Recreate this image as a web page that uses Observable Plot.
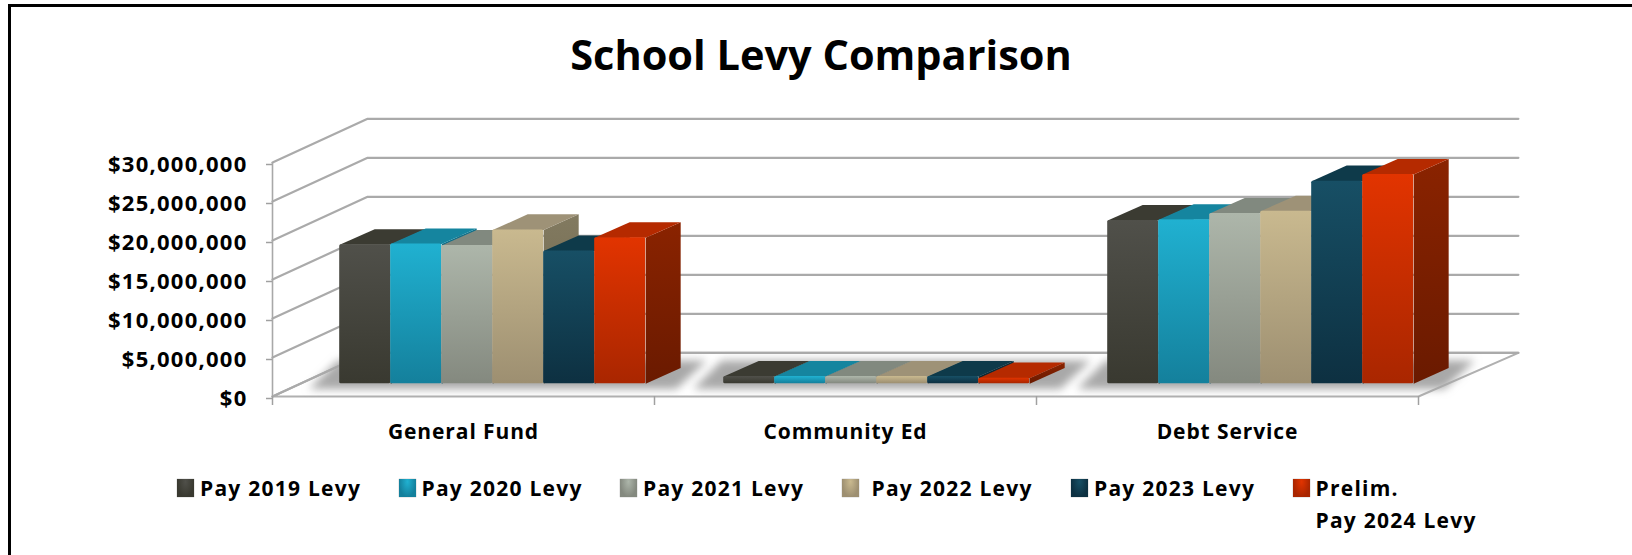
<!DOCTYPE html>
<html>
<head>
<meta charset="utf-8">
<script src="https://cdn.jsdelivr.net/npm/d3@7"></script>
<script src="https://cdn.jsdelivr.net/npm/@observablehq/plot@0.6"></script>
<style>
  html, body { margin: 0; padding: 0; background: #fff; }
  body { width: 1632px; height: 555px; overflow: hidden; position: relative; font-family: "Open Sans", sans-serif; color: #000; }
  #frame { position: absolute; left: 8px; top: 4px; right: 0; bottom: -10px; border-left: 3px solid #000; border-top: 3px solid #000; }
  #title { position: absolute; left: 0; top: 0; width: 1642px; height: 100px; box-sizing: border-box; padding-top: 24px; text-align: center; font: 700 41.5px/60px "Open Sans", sans-serif; }
  #chart { position: absolute; left: 0; top: 100px; width: 1632px; height: 340px; }
  #chart svg { display: block; overflow: visible; }
  #chart svg text { font-family: "Open Sans", sans-serif; font-weight: 700; fill: #000; }
  #legend { position: absolute; left: 177px; top: 473px; display: flex; font: 700 21px/31.5px "Open Sans", sans-serif; letter-spacing: 1.25px; }
  .item { display: flex; align-items: flex-start; width: 221.5px; white-space: nowrap; }
  .swatch { flex: none; width: 17px; height: 18px; margin: 6px 6px 0 0; box-shadow: 0 0 1px #888; }
</style>
</head>
<body>
<div id="frame"></div>
<div id="title">School Levy Comparison</div>
<div id="chart"></div>
<div id="legend"></div>
<script>
// ---- values ----
const categories = ["General Fund", "Community Ed", "Debt Service"];
const seriesNames = ["Pay 2019 Levy", "Pay 2020 Levy", "Pay 2021 Levy", "Pay 2022 Levy", "Pay 2023 Levy", "Prelim.\nPay 2024 Levy"];
const pay2019 = [17800000, 900000, 20900000];
const pay2020 = [17900000, 900000, 21000000];
const pay2021 = [17700000, 900000, 21800000];
const pay2022 = [19700000, 900000, 22100000];
const pay2023 = [17000000, 900000, 25950000];
const pay2024 = [18700000, 700000, 26800000];
const seriesValues = [pay2019, pay2020, pay2021, pay2022, pay2023, pay2024];
const yTicks = [0, 5000000, 10000000, 15000000, 20000000, 25000000, 30000000];

// ---- colours ----
const frontTop = ["#50504a", "#20b1d1", "#adb6aa", "#c9b98f", "#174f65", "#e23400"];
const frontBot = ["#393930", "#14809c", "#84897f", "#9d8f71", "#0d3041", "#a92600"];
const topFace  = ["#3b3b32", "#15859f", "#81897f", "#9e9277", "#0e3a4a", "#b52a00"];
const sideTop  = ["#33332b", "#10708a", "#6f756c", "#827a60", "#0b2f3e", "#8a2300"];
const sideBot  = ["#28281f", "#0b586c", "#585d55", "#6a6249", "#08242f", "#6a1a00"];

// ---- pseudo-3D projection expressed in scale units ----
const yMax = 30000000;
const wallDX = 0.249, wallEnd = 3.2615, wallDY = 5600000;  // depth of the whole floor
const barDX = 0.0916, barDY = 2000000;       // depth of one bar
const plane = c => 0.0759 + 0.00524 * c;     // bars stand this far into the floor
const planeDY = 1650000;
const inset = 0.1, barW = 0.1335;

const wallLines = yTicks.flatMap(v => [
  {id: v, x: 0, y: v}, {id: v, x: wallDX, y: v + wallDY}, {id: v, x: wallEnd, y: v + wallDY}
]);
const floor = [
  {x: 0, y: 0}, {x: 3, y: 0}, {x: wallEnd, y: wallDY}, {x: wallDX, y: wallDY}, {x: 0, y: 0}
];

// floor shadow under each bar group
const shadows = categories.flatMap((c, i) => {
  const x0 = i + inset + plane(i), x1 = x0 + 6 * barW;
  return [
    {id: c, x: x0 - 0.08, y: 950000},
    {id: c, x: x1 + 0.08, y: 950000},
    {id: c, x: x1 + 0.16, y: 4600000},
    {id: c, x: x0 - 0.005, y: 4600000}
  ];
});

const barMarks = [];
seriesValues.forEach((vals, s) => {
  const cells = vals.map((v, c) => {
    const x1 = c + inset + plane(c) + s * barW;
    return {id: c, x1, x2: x1 + barW, y1: planeDY, y2: planeDY + v};
  });
  const tops = cells.flatMap(d => [
    {id: d.id, x: d.x1, y: d.y2}, {id: d.id, x: d.x2, y: d.y2},
    {id: d.id, x: d.x2 + barDX, y: d.y2 + barDY}, {id: d.id, x: d.x1 + barDX, y: d.y2 + barDY}
  ]);
  const sides = cells.flatMap(d => [
    {id: d.id, x: d.x2, y: d.y1}, {id: d.id, x: d.x2 + barDX, y: d.y1 + barDY},
    {id: d.id, x: d.x2 + barDX, y: d.y2 + barDY}, {id: d.id, x: d.x2, y: d.y2}
  ]);
  barMarks.push(
    Plot.line(sides, {x: "x", y: "y", z: "id", stroke: "none", fill: `url(#side${s})`}),
    Plot.line(tops, {x: "x", y: "y", z: "id", stroke: "none", fill: topFace[s]}),
    Plot.rect(cells, {x1: "x1", x2: "x2", y1: "y1", y2: "y2", fill: `url(#front${s})`, rx: 1.5})
  );
});

function gradient(id, a, b) {
  return `<linearGradient id="${id}" x1="0" y1="0" x2="0" y2="1"><stop offset="0" stop-color="${a}"/><stop offset="1" stop-color="${b}"/></linearGradient>`;
}
const defsMark = () => {
  const g = document.createElementNS("http://www.w3.org/2000/svg", "defs");
  g.innerHTML = frontTop.map((c, i) => gradient(`front${i}`, c, frontBot[i])).join("")
    + sideTop.map((c, i) => gradient(`side${i}`, c, sideBot[i])).join("")
    + `<filter id="soft" x="-20%" y="-50%" width="140%" height="200%"><feGaussianBlur stdDeviation="4"/></filter>`
    + `<filter id="fine" x="-5%" y="-20%" width="110%" height="140%"><feGaussianBlur stdDeviation="0.5"/></filter>`;
  return g;
};
const withFilter = id => (index, scales, values, dims, context, next) => {
  const g = next(index, scales, values, dims, context);
  g.setAttribute("filter", `url(#${id})`);
  return g;
};

const plot = Plot.plot({
  width: 1632,
  height: 340,
  marginLeft: 272,
  marginRight: 214,
  marginTop: 62,
  marginBottom: 44,
  style: {background: "transparent", overflow: "visible"},
  x: {type: "linear", domain: [0, 3], axis: null},
  y: {type: "linear", domain: [0, yMax], axis: null},
  marks: [
    defsMark,
    // floor and walls
    Plot.line(floor, {x: "x", y: "y", fill: "#fff", stroke: "#b0b0b0", strokeWidth: 2, render: withFilter("fine")}),
    Plot.line(wallLines, {x: "x", y: "y", z: "id", stroke: "#aaaaaa", strokeWidth: 2.2, render: withFilter("fine")}),
    // shadow on the floor
    Plot.line(shadows, {x: "x", y: "y", z: "id", stroke: "none", fill: "#a8a8a8", render: withFilter("soft")}),
    ...barMarks,
    // axes
    Plot.ruleX([0], {y1: 0, y2: yMax, stroke: "#a8a8a8", strokeWidth: 1.6}),
    Plot.axisY({ticks: yTicks, anchor: "left", tickSize: 6, tickPadding: 19, stroke: "#a0a0a0", strokeWidth: 1.5,
      fontSize: 22, textStroke: "none", tickFormat: d => "$" + d3.format(",")(d), dy: 2, label: null}),
    Plot.axisX({ticks: [0, 1, 2, 3], anchor: "bottom", tickSize: 9, stroke: "#a0a0a0", strokeWidth: 1.5, tickFormat: () => "", label: null}),
    Plot.axisX({ticks: [0.5, 1.5, 2.5], anchor: "bottom", tickSize: 0, tickPadding: 28, fontSize: 21,
      tickFormat: d => categories[Math.floor(d)], label: null})
  ]
});
document.getElementById("chart").append(plot);
d3.select(plot).selectAll("text").each(function () {
  const isMoney = this.textContent.startsWith("$");
  this.style.letterSpacing = isMoney ? "1.25px" : "0.9px";
});

// legend swatches
const legend = d3.select("#legend");
seriesNames.forEach((name, i) => {
  const item = legend.append("div").attr("class", "item");
  if (i === 3) item.style("width", "229.5px");
  item.append("div").attr("class", "swatch")
    .style("background", `radial-gradient(ellipse at 50% 15%, ${frontTop[i]} 0%, ${frontBot[i]} 70%)`);
  const label = item.append("div").style("padding-left", i === 3 ? "7px" : "0");
  name.split("\n").forEach(t => label.append("div").text(t));
});
</script>
</body>
</html>
